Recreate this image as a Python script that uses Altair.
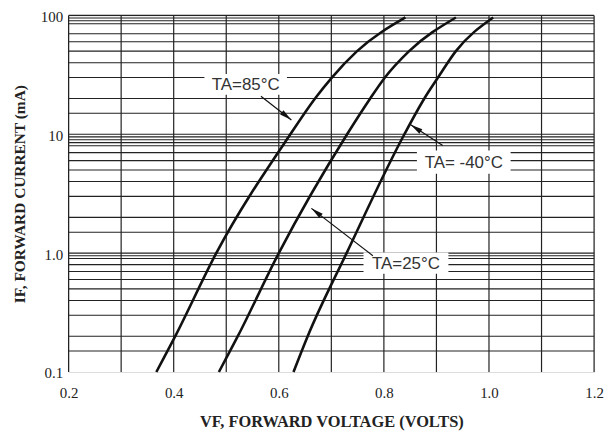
import altair as alt
import pandas as pd

# ---- data ----
v_85 = [0.367, 0.403, 0.481, 0.622, 0.669, 0.701, 0.749, 0.841]
i_85 = [0.1, 0.2, 1.0, 10, 20, 30, 50, 96]
v_25 = [0.486, 0.522, 0.600, 0.730, 0.774, 0.802, 0.848, 0.937]
i_25 = [0.1, 0.2, 1.0, 10, 20, 30, 50, 96]
v_m40 = [0.628, 0.655, 0.729, 0.839, 0.877, 0.903, 0.937, 1.008]
i_m40 = [0.1, 0.2, 1.0, 10, 20, 30, 50, 96]

x_ticks = [0.2, 0.4, 0.6, 0.8, 1.0, 1.2]
y_ticks = [0.1, 1, 10, 100]
x_grid = [0.2, 0.3, 0.4, 0.5, 0.6, 0.7, 0.8, 0.9, 1.0, 1.1, 1.2]
y_grid = [0.15, 0.2, 0.3, 0.4, 0.5, 0.6, 0.7, 0.8, 0.9, 0.95,
          1, 1.5, 2, 3, 4, 5, 6, 7, 8, 8.5, 9, 9.5,
          10, 15, 20, 30, 40, 50, 60, 70, 85, 90, 95, 100]

labels = ["TA=85°C", "TA= -40°C", "TA=25°C"]
label_v = [0.537, 0.952, 0.842]
label_i = [26.3, 5.83, 0.825]
box_size = [6900, 8900, 7300]

arrow_v_tail = [0.566, 0.912, 0.779]
arrow_i_tail = [20.9, 8.06, 0.952]
arrow_v_tip = [0.624, 0.851, 0.662]
arrow_i_tip = [13.2, 12.0, 2.38]
arrow_angle = [127.8, 303.2, 307.7]

# ---- tables ----
curves = pd.concat([
    pd.DataFrame({"v": v_85, "i": i_85, "s": "85"}),
    pd.DataFrame({"v": v_25, "i": i_25, "s": "25"}),
    pd.DataFrame({"v": v_m40, "i": i_m40, "s": "-40"}),
])
ann = pd.DataFrame({"label": labels, "v": label_v, "i": label_i, "bs": box_size})
arrows = pd.DataFrame({"v": arrow_v_tail, "i": arrow_i_tail,
                       "v2": arrow_v_tip, "i2": arrow_i_tip, "ang": arrow_angle})

xscale = alt.Scale(domain=[0.2, 1.2], nice=False, zero=False)
yscale = alt.Scale(type="log", domain=[0.1, 100], nice=False)

xaxis = alt.Axis(values=x_ticks, format=".1f", grid=False, ticks=False, domain=False,
                 labelFlush=False,
                 labelFont="Liberation Serif", labelFontSize=15, labelColor="#222",
                 labelPadding=14, title="VF, FORWARD VOLTAGE (VOLTS)",
                 titleFont="Liberation Serif", titleFontSize=16.5, titleFontWeight="bold",
                 titleColor="#222", titlePadding=13)
yaxis = alt.Axis(values=y_ticks, grid=False, ticks=False, domain=False,
                 labelFlush=False, labelOffset=1,
                 labelExpr="datum.value < 0.5 ? '0.1' : datum.value < 5 ? '1.0' : datum.value < 50 ? '10' : '100'",
                 labelFont="Liberation Serif", labelFontSize=15, labelColor="#222",
                 labelPadding=6, title="IF, FORWARD CURRENT (mA)",
                 titleFont="Liberation Serif", titleFontSize=15.5, titleFontWeight="bold",
                 titleColor="#222", titlePadding=13)


def X(f="v"):
    return alt.X(f"{f}:Q", scale=xscale, axis=xaxis)


def Y(f="i"):
    return alt.Y(f"{f}:Q", scale=yscale, axis=yaxis)


vgrid = alt.Chart(pd.DataFrame({"v": x_grid})).mark_rule(
    color="#222", strokeWidth=1.2).encode(x=X())
hgrid = alt.Chart(pd.DataFrame({"i": y_grid})).mark_rule(
    color="#222", strokeWidth=1.1).encode(y=Y())

boxes = alt.Chart(ann).mark_point(
    shape="M-1,-0.25L1,-0.25L1,0.25L-1,0.25Z", filled=True, fill="white",
    opacity=1, strokeWidth=0).encode(
    x=X(), y=Y(), size=alt.Size("bs:Q", scale=None, legend=None))

lines = alt.Chart(curves).mark_line(
    color="#111", strokeWidth=2.6, interpolate="monotone").encode(
    x=X(), y=Y(), detail="s:N", order="v:Q")

arrow_lines = alt.Chart(arrows).mark_rule(color="#111", strokeWidth=1.2).encode(
    x=X(), y=Y(), x2="v2:Q", y2="i2:Q")

arrow_heads = alt.Chart(arrows).mark_point(
    shape="M0,0L0.45,2L-0.45,2Z", filled=True, fill="#111", opacity=1,
    strokeWidth=0, size=150).encode(
    x=X("v2"), y=Y("i2"), angle=alt.Angle("ang:Q", scale=None))

texts = alt.Chart(ann).mark_text(
    font="Liberation Sans", fontSize=17, color="#333", baseline="middle", dy=1).encode(
    x=X(), y=Y(), text="label:N")

chart = alt.layer(vgrid, hgrid, boxes, lines, arrow_lines, arrow_heads, texts).properties(
    width=529, height=359,
    autosize=alt.AutoSizeParams(type="none"),
    padding={"left": 61, "top": 6, "right": 12, "bottom": 62},
).configure_view(stroke="#333", strokeWidth=1.2).configure(background="white")

chart.save("out.html", embed_options={"renderer": "svg", "actions": False})
